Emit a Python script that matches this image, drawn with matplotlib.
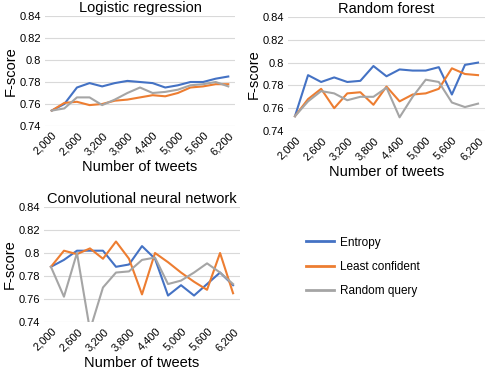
import matplotlib
matplotlib.use("Agg")
import matplotlib.pyplot as plt

plt.rcParams['font.family'] = ['Liberation Sans', 'DejaVu Sans']

tweets = [2000, 2300, 2600, 2900, 3200, 3500, 3800, 4100, 4400, 4700, 5000, 5300, 5600, 5900, 6200]
tick_labels = ["2,000", "2,600", "3,200", "3,800", "4,400", "5,000", "5,600", "6,200"]
series_names = ["Entropy", "Least confident", "Random query"]

lr_entropy = [0.754, 0.760, 0.775, 0.779, 0.776, 0.779, 0.781, 0.780, 0.779, 0.775, 0.777, 0.780, 0.780, 0.783, 0.785]
lr_least = [0.754, 0.761, 0.762, 0.759, 0.760, 0.763, 0.764, 0.766, 0.768, 0.767, 0.770, 0.775, 0.776, 0.778, 0.778]
lr_random = [0.754, 0.756, 0.766, 0.766, 0.759, 0.764, 0.770, 0.775, 0.770, 0.771, 0.773, 0.777, 0.778, 0.780, 0.776]

rf_entropy = [0.753, 0.789, 0.783, 0.787, 0.783, 0.784, 0.797, 0.788, 0.794, 0.793, 0.793, 0.796, 0.772, 0.798, 0.800]
rf_least = [0.753, 0.768, 0.777, 0.760, 0.773, 0.774, 0.763, 0.779, 0.766, 0.772, 0.773, 0.777, 0.795, 0.790, 0.789]
rf_random = [0.753, 0.766, 0.775, 0.773, 0.767, 0.770, 0.770, 0.778, 0.752, 0.770, 0.785, 0.783, 0.765, 0.761, 0.764]

cnn_entropy = [0.788, 0.794, 0.802, 0.802, 0.802, 0.788, 0.790, 0.806, 0.795, 0.763, 0.772, 0.763, 0.773, 0.783, 0.772]
cnn_least = [0.788, 0.802, 0.799, 0.804, 0.795, 0.810, 0.795, 0.764, 0.800, 0.792, 0.783, 0.775, 0.768, 0.800, 0.765]
cnn_random = [0.788, 0.762, 0.800, 0.733, 0.770, 0.783, 0.784, 0.794, 0.796, 0.773, 0.776, 0.783, 0.791, 0.783, 0.773]

colors = ["#4472C4", "#ED7D31", "#A5A5A5"]
W, H = 486, 369


def add_panel(fig, box, title, data):
    x0, y0, x1, y1 = box  # pixel box of plot area (top-left origin)
    ax = fig.add_axes([x0 / W, 1 - y1 / H, (x1 - x0) / W, (y1 - y0) / H])
    for vals, c in zip(data, colors):
        ax.plot(tweets, vals, color=c, lw=1.5)
    ax.set_ylim(0.74, 0.84)
    ax.set_yticks([0.74, 0.76, 0.78, 0.80, 0.82, 0.84])
    ax.set_yticklabels(["0.74", "0.76", "0.78", "0.8", "0.82", "0.84"], fontsize=8)
    ax.set_xlim(1840, 6360)
    ax.set_xticks(tweets[::2])
    ax.set_xticklabels(tick_labels, rotation=45, ha="right", rotation_mode="anchor", fontsize=8)
    ax.grid(axis="y", color="#d9d9d9", lw=0.8)
    ax.set_axisbelow(True)
    for s in ax.spines.values():
        s.set_visible(False)
    ax.tick_params(length=0, pad=3)
    ax.set_title(title, fontsize=10.5, pad=3)
    ax.set_xlabel("Number of tweets", fontsize=10.5, labelpad=2)
    ax.set_ylabel("F-score", fontsize=10.5, labelpad=1)
    return ax


fig = plt.figure(figsize=(W / 100, H / 100), dpi=100)

add_panel(fig, (45, 16, 235, 126), "Logistic regression", [lr_entropy, lr_least, lr_random])
add_panel(fig, (288, 17, 485, 131), "Random forest", [rf_entropy, rf_least, rf_random])
add_panel(fig, (44, 207, 240, 322), "Convolutional neural network", [cnn_entropy, cnn_least, cnn_random])

handles = [plt.Line2D([], [], color=c, lw=2) for c in colors]
fig.legend(handles, series_names, loc="center left", bbox_to_anchor=(295 / W, 1 - 267 / H),
           frameon=False, fontsize=8.5, handlelength=2.4, labelspacing=1.05, handletextpad=0.5)

fig.savefig("out.png", dpi=100)
